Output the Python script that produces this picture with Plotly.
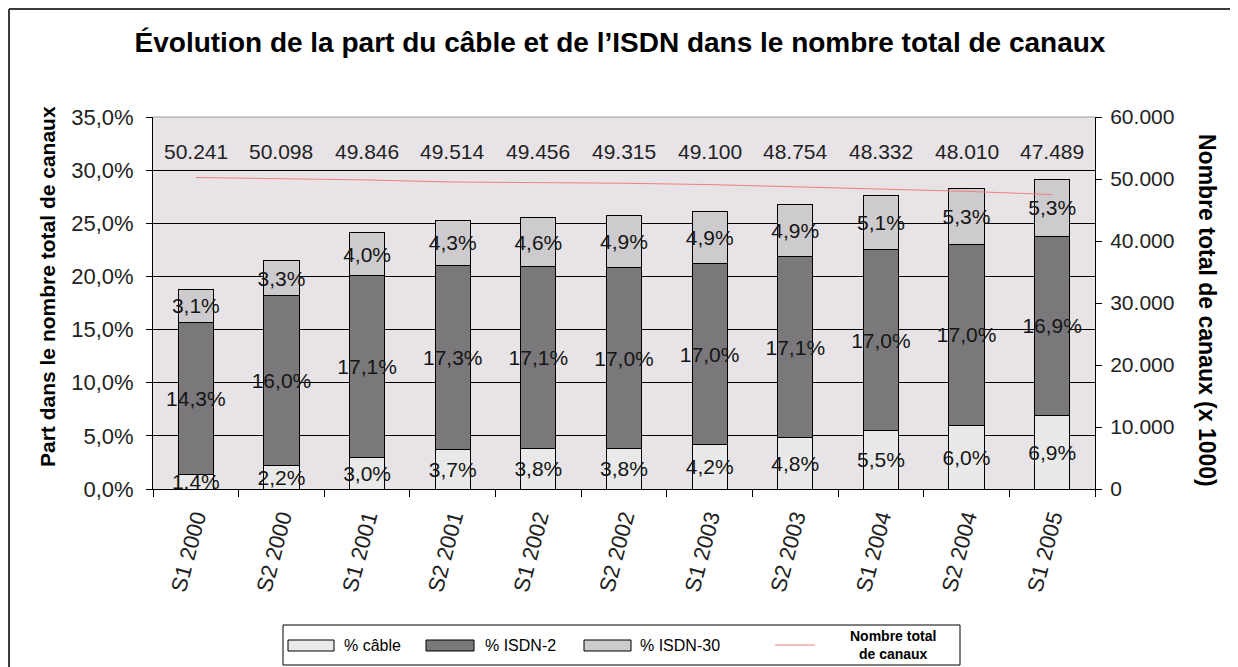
import plotly.graph_objects as go

categories = ["S1 2000", "S2 2000", "S1 2001", "S2 2001", "S1 2002", "S2 2002",
              "S1 2003", "S2 2003", "S1 2004", "S2 2004", "S1 2005"]
cable_pct = [1.4, 2.2, 3.0, 3.7, 3.8, 3.8, 4.2, 4.8, 5.5, 6.0, 6.9]
isdn2_pct = [14.3, 16.0, 17.1, 17.3, 17.1, 17.0, 17.0, 17.1, 17.0, 17.0, 16.9]
isdn30_pct = [3.1, 3.3, 4.0, 4.3, 4.6, 4.9, 4.9, 4.9, 5.1, 5.3, 5.3]
total_canaux = [50241, 50098, 49846, 49514, 49456, 49315, 49100, 48754, 48332, 48010, 47489]

series_names = ["% câble", "% ISDN-2", "% ISDN-30", "Nombre total<br>de canaux"]
bar_colors = ["#e9e9e9", "#7a787a", "#cdcbcd"]
line_color = "#f08080"

FONT = "Liberation Sans, Arial, sans-serif"

# page geometry (the page body adds an 8px offset)
OFF = 8
W, H = 1238 - OFF, 667 - OFF
PL, PR, PT, PB = 153, 1095, 117, 489          # plot area in page pixels
pw, ph = PR - PL, PB - PT


def px(x):
    return (x - PL) / pw


def py(y):
    return (PB - y) / ph


fig = go.Figure()

for name, vals, color in zip(series_names[:3], [cable_pct, isdn2_pct, isdn30_pct], bar_colors):
    fig.add_trace(go.Bar(
        x=categories, y=[v / 100 for v in vals], name=name,
        marker=dict(color=color, line=dict(color="#000000", width=1)),
        texttemplate="%{y:.1%}", textposition="inside", insidetextanchor="middle",
        textangle=0, constraintext="none",
        textfont=dict(family=FONT, size=21, color="#151515"),
        hoverinfo="skip", showlegend=False,
    ))

fig.add_trace(go.Scatter(
    x=categories, y=total_canaux, name=series_names[3],
    mode="lines", line=dict(color=line_color, width=1), yaxis="y2",
    hoverinfo="skip", showlegend=False,
))

# labels of the line series (in the band above the line)
for c, v in zip(categories, total_canaux):
    fig.add_annotation(
        x=c, y=py(151), xref="x", yref="paper", text=f"{v:,}".replace(",", "."),
        showarrow=False, font=dict(family=FONT, size=21, color="#222222"),
        xanchor="center", yanchor="middle",
    )

# axis titles
fig.add_annotation(
    x=px(47), y=py(287), xref="paper", yref="paper", textangle=-90,
    text="<b>Part dans le nombre total de canaux</b>", showarrow=False,
    font=dict(family=FONT, size=21, color="#000000"), xanchor="center", yanchor="middle",
)
fig.add_annotation(
    x=px(1207), y=py(310), xref="paper", yref="paper", textangle=90,
    text="<b>Nombre total de canaux (x 1000)</b>", showarrow=False,
    font=dict(family=FONT, size=23, color="#000000"), xanchor="center", yanchor="middle",
)

# plot-area top border and outer chart border (top and left edges)
fig.add_shape(type="line", xref="paper", yref="paper", x0=0, x1=1, y0=1, y1=1,
              line=dict(color="#a0a0a0", width=1))
fig.add_shape(type="line", xref="paper", yref="paper",
              x0=px(9), x1=px(1300), y0=py(9), y1=py(9),
              line=dict(color="#3a3a3a", width=2), layer="below")
fig.add_shape(type="line", xref="paper", yref="paper",
              x0=px(9), x1=px(9), y0=py(9), y1=py(760),
              line=dict(color="#3a3a3a", width=2), layer="below")

# custom legend (wide swatches like the original)
fig.add_shape(type="rect", xref="paper", yref="paper",
              x0=px(283), x1=px(960), y0=py(625), y1=py(665),
              line=dict(color="#000000", width=1), fillcolor="#ffffff")
sw_x = [(288, 334), (426, 474), (584, 631)]
for (a, b), col in zip(sw_x, bar_colors):
    fig.add_shape(type="rect", xref="paper", yref="paper",
                  x0=px(a), x1=px(b), y0=py(651), y1=py(640),
                  line=dict(color="#000000", width=1), fillcolor=col)
fig.add_shape(type="line", xref="paper", yref="paper",
              x0=px(775), x1=px(815), y0=py(645), y1=py(645),
              line=dict(color=line_color, width=1))
for name, xl in zip(series_names[:3], [342, 483, 638]):
    fig.add_annotation(x=px(xl), y=py(645), xref="paper", yref="paper", text=name,
                       showarrow=False, xanchor="left", yanchor="middle",
                       font=dict(family=FONT, size=16, color="#000000"))
fig.add_annotation(x=px(893), y=py(645), xref="paper", yref="paper",
                   text="<b>" + series_names[3] + "</b>",
                   showarrow=False, xanchor="center", yanchor="middle",
                   font=dict(family=FONT, size=14, color="#000000"))

fig.update_layout(
    width=W, height=H,
    margin=dict(l=PL - OFF, r=W - (PR - OFF), t=PT - OFF, b=H - (PB - OFF), autoexpand=False),
    paper_bgcolor="#ffffff", plot_bgcolor="#e7e3e7",
    barmode="stack", bargap=0.59,
    separators=",.",
    font=dict(family=FONT, size=16, color="#222222"),
    title=dict(text="<b>Évolution de la part du câble et de l’ISDN dans le nombre total de canaux</b>",
               x=(620 - OFF) / W, xref="container", y=1 - (42 - OFF) / H, yref="container",
               yanchor="middle", xanchor="center",
               font=dict(family=FONT, size=28, color="#000000")),
    xaxis=dict(
        showline=True, linecolor="#000000", linewidth=1,
        ticks="outside", ticklen=7, tickcolor="#000000", tickson="boundaries",
        ticklabelstandoff=6,
        tickangle=-75, tickfont=dict(family=FONT, size=22, color="#222222"),
        showgrid=False,
    ),
    yaxis=dict(
        range=[0, 0.35], dtick=0.05, tickformat=".1%",
        showline=True, linecolor="#000000", linewidth=1,
        ticks="outside", ticklen=6, tickcolor="#000000", ticklabelstandoff=8,
        showgrid=True, gridcolor="#000000", gridwidth=1,
        zeroline=False, tickfont=dict(family=FONT, size=22, color="#222222"),
    ),
    yaxis2=dict(
        range=[0, 60000], dtick=10000, tickformat=",d", overlaying="y", side="right",
        showline=True, linecolor="#000000", linewidth=1,
        ticks="outside", ticklen=6, tickcolor="#000000", ticklabelstandoff=4,
        showgrid=False, zeroline=False,
        tickfont=dict(family=FONT, size=21, color="#222222"),
    ),
    showlegend=False,
)

fig.write_html("out.html")
